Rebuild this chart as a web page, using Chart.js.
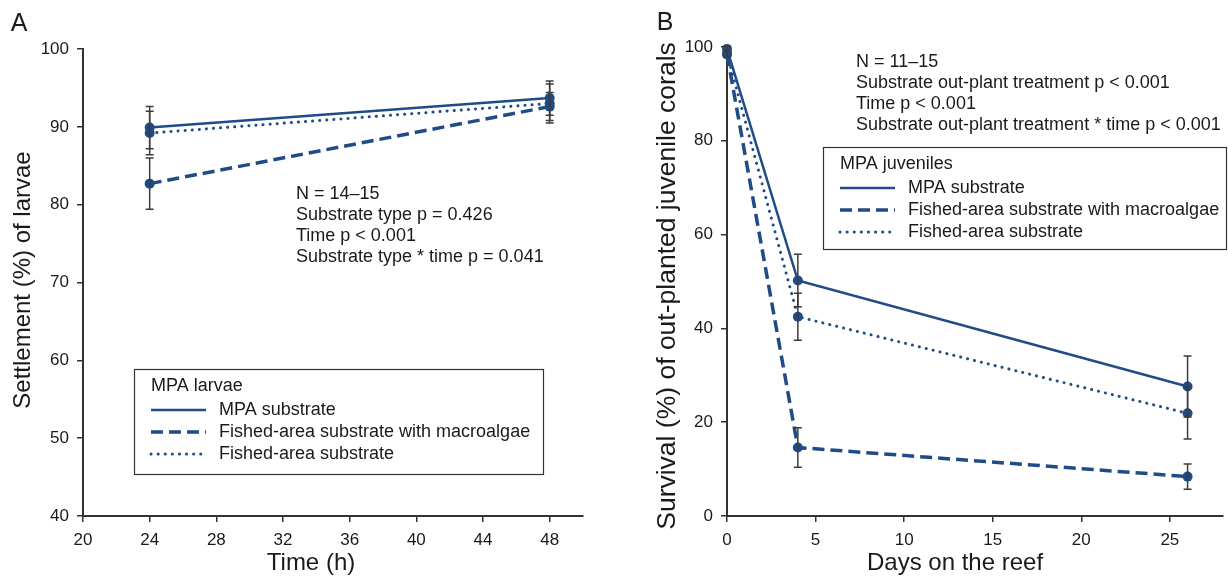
<!DOCTYPE html>
<html>
<head>
<meta charset="utf-8">
<script src="https://cdn.jsdelivr.net/npm/chart.js@4.4.0/dist/chart.umd.min.js"></script>
<style>
  html, body { margin: 0; padding: 0; background: #fff; }
  #wrap { position: relative; width: 1228px; height: 576px; }
  canvas { position: absolute; top: 0; }
  #chartA { left: 0; }
  #chartB { left: 614px; }
</style>
</head>
<body>
<div id="wrap">
  <canvas id="chartA" width="614" height="576"></canvas>
  <canvas id="chartB" width="614" height="576"></canvas>
</div>
<script>
  // Larval settlement (panel A)
  const hoursA = [24, 48];
  const mpaA = [89.9, 93.7];
  const mpaErrA = [2.7, 2.2];
  const algaeA = [82.7, 92.6];
  const algaeErrA = [3.3, 1.8];
  const fishedA = [89.2, 93.0];
  const fishedErrA = [2.8, 2.5];
  const xTicksA = [20, 24, 28, 32, 36, 40, 44, 48];
  const yTicksA = [40, 50, 60, 70, 80, 90, 100];

  // Juvenile survival on the reef (panel B)
  const daysB = [0, 4, 26];
  const mpaB = [99.6, 50.2, 27.6];
  const mpaErrB = [0.5, 5.6, 6.5];
  const algaeB = [98.4, 14.6, 8.4];
  const algaeErrB = [0.6, 4.2, 2.7];
  const fishedB = [98.6, 42.5, 21.9];
  const fishedErrB = [0.6, 5.0, 5.5];
  const xTicksB = [0, 5, 10, 15, 20, 25];
  const yTicksB = [0, 20, 40, 60, 80, 100];

  const seriesNames = ["MPA substrate", "Fished-area substrate with macroalgae", "Fished-area substrate"];

  const FONT = '"Liberation Sans", Arial, sans-serif';
  const INK = "#1a1a1a";
  const BLUE = "#1f4b87";

  const lineStyles = [
    { borderWidth: 2.5 },
    { borderWidth: 3.5, borderDash: [12, 6] },
    { borderWidth: 3, borderDash: [0.1, 7], borderCapStyle: "round" },
  ];

  function series(xs, ys, errs, idx) {
    return Object.assign({
      label: seriesNames[idx],
      data: xs.map((x, i) => ({ x: x, y: ys[i] })),
      errors: errs,
      borderColor: BLUE,
      backgroundColor: BLUE,
      pointRadius: 5,
      pointHoverRadius: 5,
      pointBorderWidth: 0,
      tension: 0,
      clip: false,
    }, lineStyles[idx]);
  }

  function axis(min, max, values, fit) {
    return {
      type: "linear",
      min: min,
      max: max,
      afterBuildTicks: (s) => { s.ticks = values.map((v) => ({ value: v })); },
      afterFit: (s) => { if (s.isHorizontal()) s.height = fit; else s.width = fit; },
      grid: { drawOnChartArea: false, drawTicks: true, tickLength: 6, color: "#333", lineWidth: 1.5 },
      border: { display: true, color: "#333", width: 2 },
      ticks: { color: INK, font: { family: FONT, size: 17 }, padding: 8, maxRotation: 0, autoSkip: false },
    };
  }

  // vertical error bars with caps, drawn over the points
  const errorBars = {
    id: "errorBars",
    afterDatasetsDraw(chart) {
      const ctx = chart.ctx;
      const xs = chart.scales.x, ys = chart.scales.y;
      ctx.save();
      ctx.strokeStyle = "#3c3c3c";
      ctx.lineWidth = 1.5;
      chart.data.datasets.forEach((ds) => {
        ds.data.forEach((p, i) => {
          const e = ds.errors[i];
          const px = xs.getPixelForValue(p.x);
          const top = ys.getPixelForValue(p.y + e);
          const bot = ys.getPixelForValue(p.y - e);
          ctx.beginPath();
          ctx.moveTo(px, top); ctx.lineTo(px, bot);
          ctx.moveTo(px - 4, top); ctx.lineTo(px + 4, top);
          ctx.moveTo(px - 4, bot); ctx.lineTo(px + 4, bot);
          ctx.stroke();
        });
      });
      ctx.restore();
    },
  };

  // panel letter, axis titles, statistics notes and boxed legend
  const panelText = {
    id: "panelText",
    afterDraw(chart, args, o) {
      const ctx = chart.ctx;
      const area = chart.chartArea;
      ctx.save();
      ctx.fillStyle = INK;
      ctx.textAlign = "center";
      ctx.textBaseline = "middle";
      ctx.font = "25px " + FONT;
      ctx.fillText(o.letter, o.letterX, o.letterY);

      ctx.font = "24px " + FONT;
      ctx.fillText(o.xTitle, o.xTitleX, 563);
      ctx.save();
      ctx.font = o.yTitleSize + "px " + FONT;
      ctx.translate(o.yTitleX, o.yTitleY || (area.top + area.bottom) / 2);
      ctx.rotate(-Math.PI / 2);
      ctx.fillText(o.yTitle, 0, 0);
      ctx.restore();

      ctx.font = "18px " + FONT;
      ctx.textAlign = "left";
      o.notes.forEach((t, i) => ctx.fillText(t, o.noteX, o.noteY + i * 21));

      const L = o.legend;
      ctx.strokeStyle = "#333";
      ctx.lineWidth = 1.2;
      ctx.strokeRect(L.x + 0.5, L.y + 0.5, L.w, L.h);
      ctx.fillText(L.title, L.x + 17, L.y + 17);
      chart.data.datasets.forEach((ds, i) => {
        const y = L.y + 41 + i * 22;
        ctx.strokeStyle = ds.borderColor;
        ctx.lineWidth = ds.borderWidth;
        ctx.setLineDash(ds.borderDash || []);
        ctx.lineCap = ds.borderCapStyle || "butt";
        ctx.beginPath();
        ctx.moveTo(L.x + 17, y);
        ctx.lineTo(L.x + 72, y);
        ctx.stroke();
        ctx.setLineDash([]);
        ctx.fillText(ds.label, L.x + 85, y);
      });
      ctx.restore();
    },
  };

  new Chart(document.getElementById("chartA"), {
    type: "line",
    data: {
      datasets: [
        series(hoursA, mpaA, mpaErrA, 0),
        series(hoursA, algaeA, algaeErrA, 1),
        series(hoursA, fishedA, fishedErrA, 2),
      ],
    },
    options: {
      responsive: false,
      animation: false,
      layout: { padding: { left: 0, top: 49, right: 31, bottom: 0 } },
      plugins: {
        legend: { display: false },
        tooltip: { enabled: false },
        panelText: {
          letter: "A", letterX: 19, letterY: 24,
          xTitle: "Time (h)", xTitleX: 311,
          yTitle: "Settlement (%) of larvae", yTitleX: 23, yTitleSize: 24, yTitleY: 280,
          notes: ["N = 14\u201315", "Substrate type p = 0.426", "Time p < 0.001", "Substrate type * time p = 0.041"],
          noteX: 296, noteY: 194,
          legend: { x: 134, y: 369, w: 409, h: 105, title: "MPA larvae" },
        },
      },
      scales: { x: axis(20, 50, xTicksA, 60), y: axis(40, 100, yTicksA, 83) },
    },
    plugins: [errorBars, panelText],
  });

  new Chart(document.getElementById("chartB"), {
    type: "line",
    data: {
      datasets: [
        series(daysB, mpaB, mpaErrB, 0),
        series(daysB, algaeB, algaeErrB, 1),
        series(daysB, fishedB, fishedErrB, 2),
      ],
    },
    options: {
      responsive: false,
      animation: false,
      layout: { padding: { left: 0, top: 47, right: 2, bottom: 0 } },
      plugins: {
        legend: { display: false },
        tooltip: { enabled: false },
        panelText: {
          letter: "B", letterX: 51, letterY: 23,
          xTitle: "Days on the reef", xTitleX: 341,
          yTitle: "Survival (%) of out-planted juvenile corals", yTitleX: 54, yTitleSize: 26.5, yTitleY: 286,
          notes: ["N = 11\u201315", "Substrate out-plant treatment p < 0.001", "Time p < 0.001", "Substrate out-plant treatment * time p < 0.001"],
          noteX: 242, noteY: 62,
          legend: { x: 209, y: 147, w: 403, h: 102, title: "MPA juveniles" },
        },
      },
      scales: { x: axis(0, 28, xTicksB, 60), y: axis(0, 100, yTicksB, 113) },
    },
    plugins: [errorBars, panelText],
  });
</script>
</body>
</html>
